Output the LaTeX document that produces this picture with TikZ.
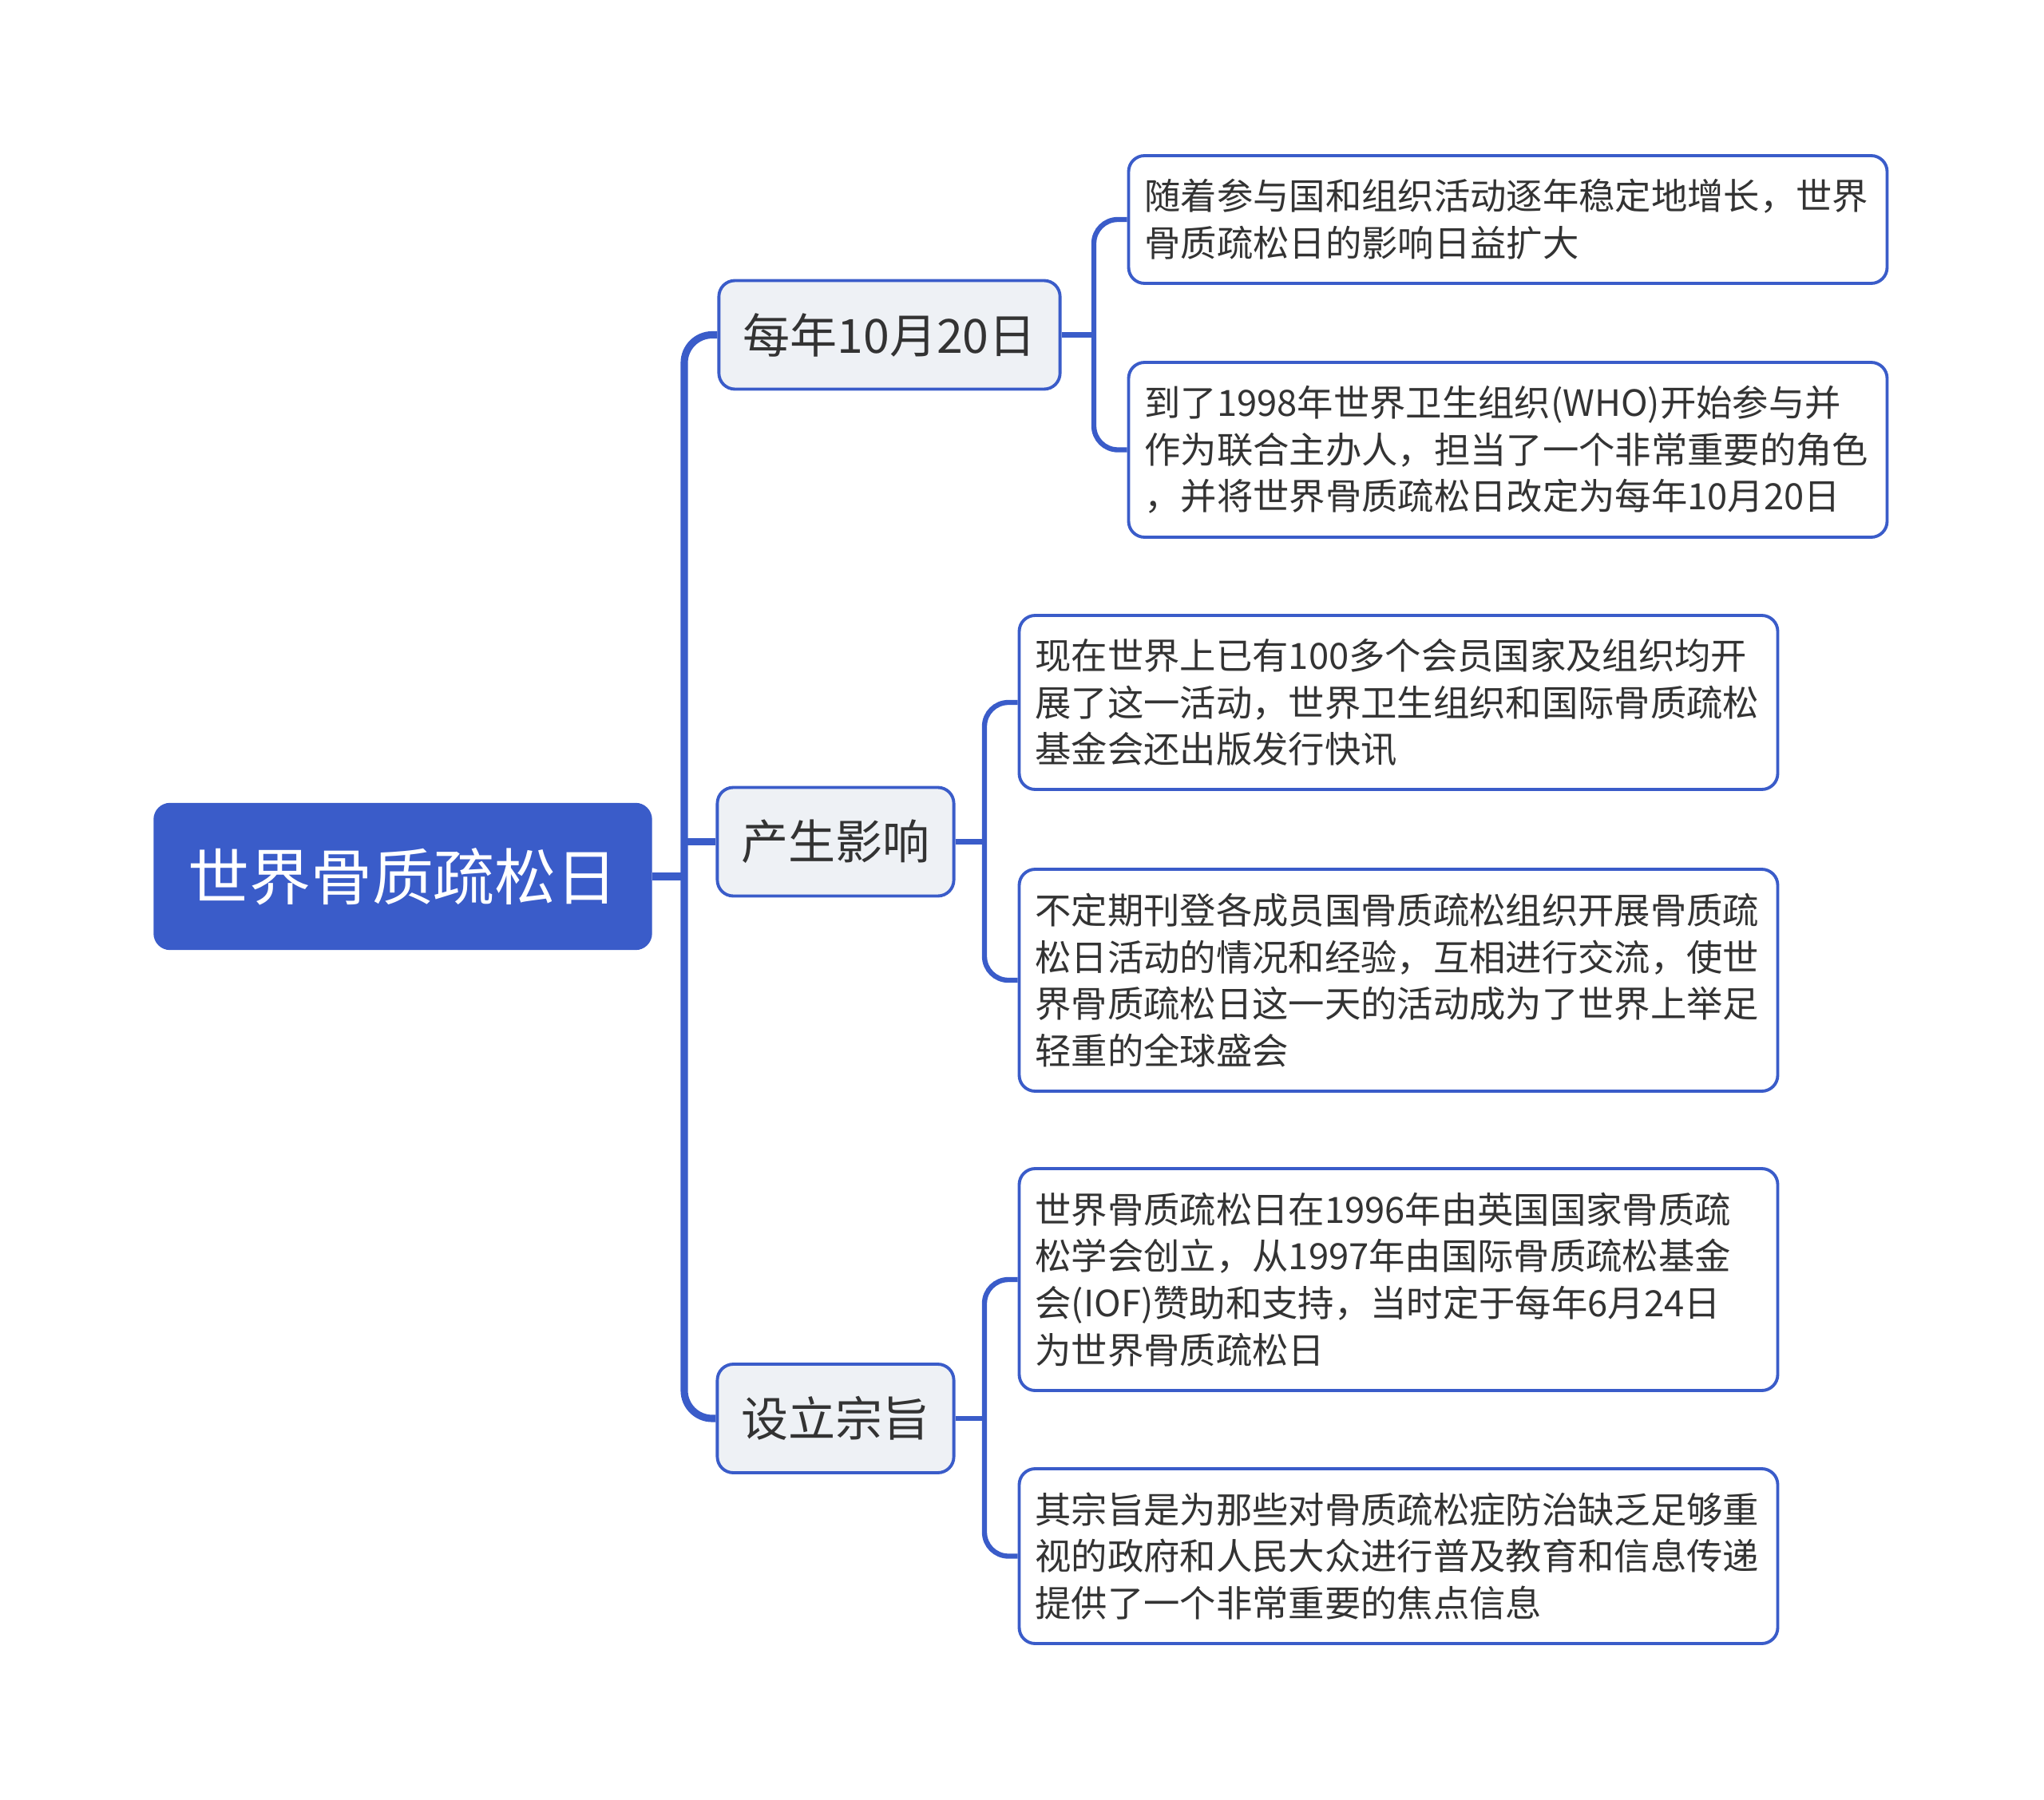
\documentclass[tikz,border=0pt]{standalone}
\usepackage{fontspec}
\setmainfont{Noto Sans CJK SC}
\definecolor{mapblue}{HTML}{3A5CC9}
\definecolor{topicfill}{HTML}{EEF1F5}
\definecolor{inkgray}{HTML}{333333}
\begin{document}
\begin{tikzpicture}[x=1cm,y=1cm,
  rootbox/.style={draw=mapblue, fill=mapblue, rounded corners=0.2cm, text=white,
    minimum width=6.23cm, minimum height=1.83cm, inner sep=0pt,
    font=\fontsize{21.9pt}{26pt}\selectfont},
  topicbox/.style={draw=mapblue, line width=1.1pt, fill=topicfill, rounded corners=0.2cm,
    text=inkgray, minimum height=1.36cm, inner xsep=0.3cm, inner ysep=0pt,
    font=\fontsize{16.8pt}{20pt}\selectfont},
  leafbox/.style={draw=mapblue, line width=1.1pt, fill=white, rounded corners=0.2cm,
    text=inkgray, align=left, text width=9.1cm, inner xsep=0.2cm, inner ysep=0.2cm,
    font=\fontsize{12.9pt}{16.67pt}\selectfont},
  trunk/.style={draw=mapblue, line width=2.6pt, rounded corners=0.35cm},
  twig/.style={draw=mapblue, line width=1.8pt, rounded corners=0.3cm}]
\useasboundingbox (0,0) rectangle (25.6,-22.55);

% centre and main topics
\node[rootbox] (root) at (5.045,-10.98) {世界骨质疏松日};
\node[topicbox] (day) at (11.14,-4.195) {每年10月20日};
\node[topicbox] (effect) at (10.465,-10.545) {产生影响};
\node[topicbox] (aim) at (10.465,-17.77) {设立宗旨};

% details
\node[leafbox, minimum height=1.6cm] (day1) at (18.885,-2.75)
  {随着参与国和组织活动逐年稳定地增长，世界\\骨质疏松日的影响日益扩大};
\node[leafbox, minimum height=2.19cm] (day2) at (18.885,-5.635)
  {到了1998年世界卫生组织(WHO)开始参与并\\作为联合主办人，担当了一个非常重要的角色\\，并将世界骨质疏松日改定为每年10月20日};
\node[leafbox, minimum height=2.18cm] (effect1) at (17.515,-8.80)
  {现在世界上已有100多个会员国家及组织均开\\展了这一活动，世界卫生组织和国际骨质疏松\\基金会还出版发行快讯};
\node[leafbox, minimum height=2.78cm] (effect2) at (17.515,-12.28)
  {不定期刊登各成员国骨质疏松组织开展骨质疏\\松日活动的情况和经验，互相进行交流，使世\\界骨质疏松日这一天的活动成为了世界上举足\\轻重的全球盛会};
\node[leafbox, minimum height=2.78cm] (aim1) at (17.515,-16.03)
  {世界骨质疏松日在1996年由英国国家骨质疏\\松学会创立，从1997年由国际骨质疏松基金\\会(IOF)赞助和支持，当时定于每年6月24日\\为世界骨质疏松日};
\node[leafbox, minimum height=2.19cm] (aim2) at (17.515,-19.495)
  {其宗旨是为那些对骨质疏松症防治缺乏足够重\\视的政府和人民大众进行普及教育和信息传递\\提供了一个非常重要的焦点信息};

% bus lines
\coordinate (bus) at (8.57,0);
\coordinate (daybus) at (13.70,0);
\coordinate (restbus) at (12.33,0);

\draw[trunk] (root.east) -- (root.east -| bus);
\draw[trunk] (day.west) -- (day.west -| bus) -- (aim.west -| bus) -- (aim.west);
\draw[trunk] (effect.west -| bus) -- (effect.west);

\draw[twig] (day.east) -- (day.east -| daybus);
\draw[twig] (day1.west) -- (day1.west -| daybus) -- (day2.west -| daybus) -- (day2.west);

\draw[twig] (effect.east) -- (effect.east -| restbus);
\draw[twig] (effect1.west) -- (effect1.west -| restbus) -- (effect2.west -| restbus) -- (effect2.west);

\draw[twig] (aim.east) -- (aim.east -| restbus);
\draw[twig] (aim1.west) -- (aim1.west -| restbus) -- (aim2.west -| restbus) -- (aim2.west);
\end{tikzpicture}
\end{document}
